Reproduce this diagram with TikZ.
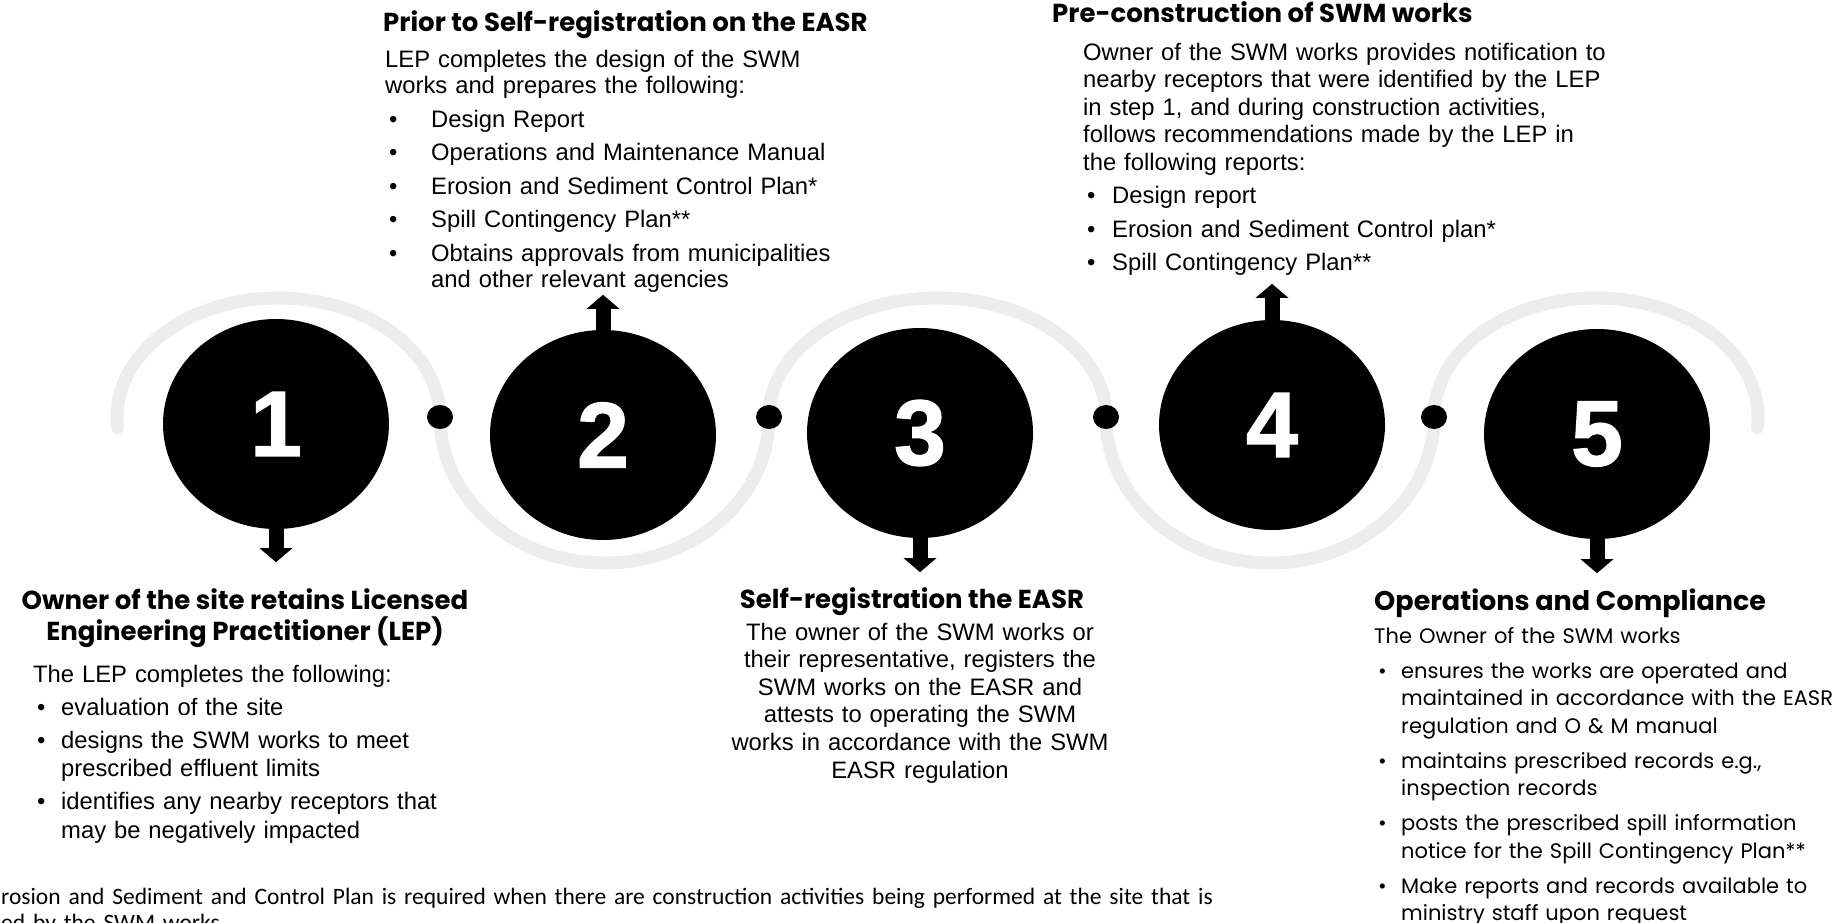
\documentclass[tikz,border=0pt]{standalone}
\usepackage{fontspec}
\setmainfont{Liberation Sans}
\newfontfamily\geofont{Poppins}
\newfontfamily\notefont{Carlito}
\newfontfamily\numfont{Liberation Sans}[BoldFeatures={FakeBold=1.5}]
\usetikzlibrary{shapes.geometric,arrows.meta}

% bullet line with hanging indent: \bul{indent}{gap}{text}
\newcommand{\bul}[3]{\par\vspace{#2}\hangindent=#1\hangafter=1\noindent\makebox[#1][l]{\hspace{4pt}\textbullet}#3\par}

\tikzset{
  stepdisc/.style={ellipse, fill=black, minimum width=226pt, minimum height=210pt, inner sep=0pt,
    text=white, font=\numfont\bfseries\fontsize{93}{93}\selectfont},
  linkdot/.style={ellipse, fill=black, minimum width=26pt, minimum height=24pt, inner sep=0pt},
  wavearc/.style={line width=13pt, black!7, line cap=round},
  pointer/.style={line width=15pt, -{Triangle[width=32pt,length=14pt]}},
  headtext/.style={font=\geofont\bfseries\fontsize{26}{31}\selectfont, inner sep=0pt},
  bodytext/.style={inner sep=0pt, align=left},
}

\begin{document}
\begin{tikzpicture}[x=1pt,y=1pt]
\path[use as bounding box, clip] (0,0) rectangle (1836,-923);
% where the wave meets the dots
\coordinate (w0) at (117.6,-427.4);
\coordinate (k1) at (440,-417);
\coordinate (k2) at (769,-417);
\coordinate (k3) at (1106,-417);
\coordinate (k4) at (1434,-417);
% the grey wave behind the steps
\draw[wavearc] (w0) arc[start angle=185, end angle=0, x radius=161.5, y radius=119];
\draw[wavearc] (k1) arc[start angle=180, end angle=360, x radius=164.5, y radius=146];
\draw[wavearc] (k2) arc[start angle=180, end angle=0, x radius=168.5, y radius=119];
\draw[wavearc] (k3) arc[start angle=180, end angle=360, x radius=164, y radius=146];
\draw[wavearc] (k4) arc[start angle=180, end angle=-5, x radius=162, y radius=119];
% the dots between the steps
\node[linkdot] (d1) at (k1) {};
\node[linkdot] (d2) at (k2) {};
\node[linkdot] (d3) at (k3) {};
\node[linkdot] (d4) at (k4) {};
% the five steps
\node[stepdisc] (c1) at (276,-424) {1};
\node[stepdisc] (c2) at (603,-435) {2};
\node[stepdisc] (c3) at (920,-433) {3};
\node[stepdisc] (c4) at (1272,-425) {4};
\node[stepdisc] (c5) at (1597,-434) {5};
% arrows to the texts
\coordinate (p1) at ([yshift=-33pt]c1.south);
\coordinate (p2) at ([yshift=35pt]c2.north);
\coordinate (p3) at ([yshift=-34pt]c3.south);
\coordinate (p4) at ([yshift=36pt]c4.north);
\coordinate (p5) at ([yshift=-34pt]c5.south);
\draw[pointer, shorten <=-3pt] (c1.south) -- (p1);
\draw[pointer, shorten <=-3pt] (c2.north) -- (p2);
\draw[pointer, shorten <=-3pt] (c3.south) -- (p3);
\draw[pointer, shorten <=-3pt] (c4.north) -- (p4);
\draw[pointer, shorten <=-3pt] (c5.south) -- (p5);
% step 1
\node[headtext, align=center, anchor=north] (h1) at (245,-588)
  {Owner of the site retains Licensed\\Engineering Practitioner (LEP)};
\node[bodytext, text width=440pt, anchor=north west, font=\fontsize{23.8}{28.5}\selectfont] (b1) at (33,-664.6)
  {The LEP completes the following:
   \bul{28pt}{4.5pt}{evaluation of the site}
   \bul{28pt}{4.5pt}{designs the SWM works to meet\newline prescribed effluent limits}
   \bul{28pt}{4.5pt}{identifies any nearby receptors that\newline may be negatively impacted}};
% step 2
\node[headtext, anchor=base west] (h2) at (383,-32) {Prior to Self-registration on the EASR};
\node[bodytext, text width=500pt, anchor=north west, font=\fontsize{23.8}{26.5}\selectfont] (b2) at (385,-49.6)
  {LEP completes the design of the SWM\\works and prepares the following:
   \bul{46pt}{7pt}{Design Report}
   \bul{46pt}{7pt}{Operations and Maintenance Manual}
   \bul{46pt}{7pt}{Erosion and Sediment Control Plan*}
   \bul{46pt}{7pt}{Spill Contingency Plan**}
   \bul{46pt}{7pt}{Obtains approvals from municipalities\newline and other relevant agencies}};
% step 3
\node[headtext, anchor=base] (h3) at (912,-608) {Self-registration the EASR};
\node[bodytext, align=center, text width=440pt, anchor=north, font=\fontsize{23.8}{27.6}\selectfont] (b3) at (920,-622.6)
  {The owner of the SWM works or\\their representative, registers the\\SWM works on the EASR and\\attests to operating the SWM\\works in accordance with the SWM\\EASR regulation};
% step 4
\node[headtext, anchor=base west] (h4) at (1052,-23) {Pre-construction of SWM works};
\node[bodytext, text width=640pt, anchor=north west, font=\fontsize{23.8}{27.5}\selectfont] (b4) at (1083,-42.6)
  {Owner of the SWM works provides notification to\\nearby receptors that were identified by the LEP\\in step 1, and during construction activities,\\follows recommendations made by the LEP in\\the following reports:
   \bul{29pt}{6pt}{Design report}
   \bul{29pt}{6pt}{Erosion and Sediment Control plan*}
   \bul{29pt}{6pt}{Spill Contingency Plan**}};
% step 5
\node[headtext, anchor=base west, font=\geofont\bfseries\fontsize{27}{31}\selectfont] (h5) at (1374,-610) {Operations and Compliance};
\node[bodytext, text width=500pt, anchor=north west, font=\geofont\fontsize{21}{27.5}\selectfont] (b5) at (1374,-627)
  {The Owner of the SWM works
   \bul{27pt}{7.5pt}{ensures the works are operated and\newline maintained in accordance with the EASR\newline regulation and O \& M manual}
   \bul{27pt}{7.5pt}{maintains prescribed records e.g.,\newline inspection records}
   \bul{27pt}{7.5pt}{posts the prescribed spill information\newline notice for the Spill Contingency Plan**}
   \bul{27pt}{7.5pt}{Make reports and records available to\newline ministry staff upon request}};
% footnote, cut by the frame
\node[bodytext, text width=1400pt, anchor=north west, font=\notefont\fontsize{23.5}{26}\selectfont] (fn) at (1,-887.7)
  {rosion and Sediment and Control Plan is required when there are construction activities being performed at the site that is\\ed by the SWM works};
\end{tikzpicture}
\end{document}
